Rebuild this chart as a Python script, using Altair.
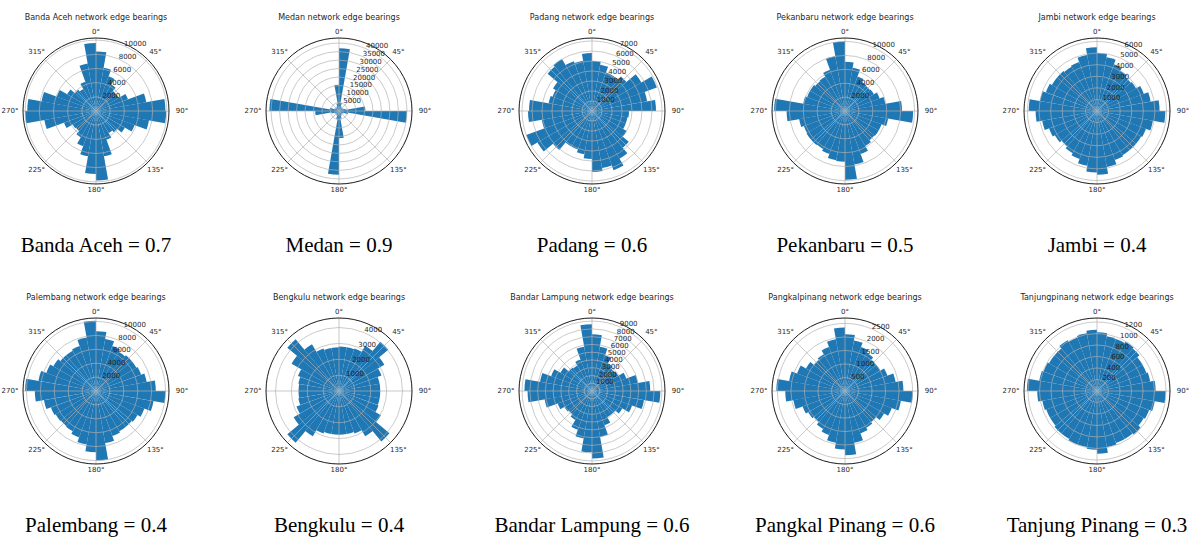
import math
import altair as alt
import pandas as pd

# Street-network edge bearing histograms (36 sectors of 10°, clockwise from north)
cities = ["Banda Aceh", "Medan", "Padang", "Pekanbaru", "Jambi",
          "Palembang", "Bengkulu", "Bandar Lampung", "Pangkalpinang", "Tanjungpinang"]
caption_names = ["Banda Aceh", "Medan", "Padang", "Pekanbaru", "Jambi",
                 "Palembang", "Bengkulu", "Bandar Lampung", "Pangkal Pinang", "Tanjung Pinang"]
scores = ["0.7", "0.9", "0.6", "0.5", "0.4", "0.4", "0.4", "0.6", "0.6", "0.3"]

# start angle of each sector, degrees clockwise from north
sector_start = list(range(0, 360, 10))

banda_aceh = [8400, 6200, 5200, 4300, 3700, 3700, 4800, 7200, 9800, 9900, 7600, 5800,
              4700, 3900, 3600, 4300, 6500, 9800, 8900, 6500, 5300, 4300, 3700, 3800,
              4800, 7400, 10000, 9700, 7800, 5900, 4700, 3900, 3600, 4400, 6800, 9600]
medan = [37000, 5000, 3000, 2500, 2500, 2500, 3000, 4000, 15500, 40000, 5500, 3000,
         2500, 2500, 2500, 3000, 4500, 16000, 37500, 5000, 3000, 2500, 2500, 2500,
         3000, 4500, 14000, 41000, 5500, 3000, 2500, 2500, 2500, 3000, 4500, 15500]
padang = [5000, 4700, 4100, 4100, 4500, 5700, 6900, 5600, 6400, 3700, 3600, 3600,
          4000, 4800, 5500, 6300, 5800, 6100, 4800, 4400, 4100, 4100, 5100, 6300,
          7000, 5100, 6400, 6300, 4400, 4200, 4500, 5800, 6000, 5300, 5100, 5800]
pekanbaru = [7100, 6300, 5300, 4800, 4700, 4800, 5300, 5900, 8200, 9800, 6300, 5600,
             5600, 5500, 5800, 6600, 7800, 9900, 7300, 7200, 6600, 6300, 6400, 6400,
             6300, 6700, 8400, 10200, 6100, 5800, 5800, 5600, 5700, 6300, 8000, 10000]
jambi = [5000, 4700, 4300, 4000, 3800, 3900, 4300, 4700, 5400, 5900, 4900, 4500,
         4400, 4400, 4400, 4500, 4900, 5500, 5300, 4800, 4400, 4200, 4000, 4200,
         4400, 4800, 5300, 5900, 5000, 4700, 4500, 4500, 4400, 4500, 4900, 5500]
palembang = [8600, 7600, 6900, 6500, 6700, 6700, 6900, 7400, 8600, 10000, 8400, 7400,
             6900, 6700, 6700, 6900, 7600, 10000, 8800, 7800, 7100, 6700, 6600, 6700,
             6900, 7600, 8800, 10200, 8400, 7600, 7100, 6700, 6700, 6900, 7800, 10100]
bengkulu = [2800, 2800, 2850, 3300, 4050, 3300, 2850, 2600, 2600, 2600, 2600, 2650,
            3050, 4150, 3300, 2850, 2750, 2750, 2750, 2750, 2850, 3300, 4250, 3300,
            2850, 2600, 2550, 2550, 2600, 2750, 3450, 4250, 3400, 2850, 2750, 2750]
bandar_lampung = [7300, 5800, 4900, 4100, 3800, 3900, 4700, 6000, 7500, 8800, 6800, 5500,
                  4500, 3900, 3900, 4700, 6000, 8700, 7900, 6200, 5300, 4300, 3900, 4100,
                  4700, 6200, 8300, 8700, 6800, 5600, 4700, 3900, 3800, 4300, 5800, 8600]
pangkalpinang = [2100, 1900, 1730, 1620, 1510, 1510, 1670, 1900, 2160, 2510, 2100, 1840,
                 1670, 1510, 1570, 1670, 1940, 2380, 2160, 1940, 1730, 1620, 1510, 1570,
                 1670, 1940, 2210, 2540, 2100, 1890, 1670, 1510, 1570, 1730, 1940, 2350]
tanjungpinang = [1020, 965, 965, 990, 965, 915, 915, 940, 1020, 1195, 1020, 965,
                 940, 990, 965, 965, 990, 1090, 1020, 990, 990, 965, 965, 940,
                 940, 965, 1040, 1220, 1020, 990, 965, 965, 1020, 990, 1020, 1065]

counts = [banda_aceh, medan, padang, pekanbaru, jambi,
          palembang, bengkulu, bandar_lampung, pangkalpinang, tanjungpinang]

# radial axis: outer limit and tick spacing of each polar plot
radial_max = [10300, 43000, 7300, 10500, 6300, 10500, 4600, 9400, 2700, 1270]
radial_step = [2000, 5000, 1000, 2000, 1000, 2000, 1000, 1000, 500, 200]
angle_ticks = list(range(0, 360, 45))

# layout of the 5 x 2 grid (pixels)
COL_X = [96, 339, 592, 845, 1097]
ROW_Y = [111, 391]
R = 73
BLUE = "#1f77b4"
GRID = "#b0b0b0"
TXT = "#262626"
SANS = "DejaVu Sans"
SERIF = "Liberation Serif"


def panel(i):
    row, col = divmod(i, 5)
    cx, cy = COL_X[col], ROW_Y[row]
    rmax = radial_max[i]
    step = radial_step[i]
    ticks = list(range(step, rmax + 1, step))

    rscale = alt.Scale(type="linear", domain=[0, rmax], range=[0, R], zero=True, nice=False)
    tscale = alt.Scale(type="linear", domain=[0, 360], range=[0, 2 * math.pi],
                       zero=False, nice=False)
    centre = dict(x=alt.value(cx), y=alt.value(cy))

    bars = alt.Chart(pd.DataFrame({"start": sector_start, "count": counts[i]})).transform_calculate(
        end="datum.start + 10"
    ).mark_arc(color=BLUE).encode(
        theta=alt.Theta("start:Q", scale=tscale, stack=None),
        theta2="end:Q",
        radius=alt.Radius("count:Q", scale=rscale, stack=None),
        **centre,
    )

    tick_df = pd.DataFrame({"tick": ticks})
    rings = alt.Chart(tick_df).mark_arc(filled=False, stroke=GRID, strokeWidth=0.8,
                                        strokeOpacity=0.85).encode(
        theta=alt.value(0),
        theta2=alt.value(2 * math.pi),
        radius=alt.Radius("tick:Q", scale=rscale, stack=None),
        **centre,
    )

    spokes = alt.Chart(pd.DataFrame({"angle": angle_ticks})).transform_calculate(
        x1=f"{cx}",
        y1=f"{cy}",
        x2=f"{cx} + {R} * sin(datum.angle * PI / 180)",
        y2=f"{cy} - {R} * cos(datum.angle * PI / 180)",
    ).mark_rule(stroke=GRID, strokeWidth=0.8, strokeOpacity=0.85).encode(
        x=alt.X("x1:Q", scale=None),
        y=alt.Y("y1:Q", scale=None),
        x2="x2:Q",
        y2="y2:Q",
    )

    outline = alt.Chart(pd.DataFrame({"k": [0]})).mark_arc(
        filled=False, stroke="#1a1a1a", strokeWidth=1
    ).encode(
        theta=alt.value(0),
        theta2=alt.value(2 * math.pi),
        radius=alt.value(R),
        **centre,
    )

    rlabels = alt.Chart(tick_df).mark_text(
        align="left", baseline="bottom", dx=1, dy=1, fontSize=7, font=SANS, color=TXT
    ).encode(
        theta=alt.value(22.5 * math.pi / 180),
        radius=alt.Radius("tick:Q", scale=rscale, stack=None),
        text=alt.Text("tick:Q", format="d"),
        **centre,
    )

    alabels = alt.Chart(pd.DataFrame({"angle": angle_ticks})).transform_calculate(
        label="datum.angle + '°'",
        lr="79 + 7 * abs(sin(datum.angle * PI / 180))",
        lx=f"{cx} + datum.lr * sin(datum.angle * PI / 180)",
        ly=f"{cy} - datum.lr * cos(datum.angle * PI / 180)",
    ).mark_text(fontSize=7, font=SANS, color=TXT, align="center", baseline="middle").encode(
        x=alt.X("lx:Q", scale=None),
        y=alt.Y("ly:Q", scale=None),
        text="label:N",
    )

    title = alt.Chart(pd.DataFrame({"k": [0]})).mark_text(
        fontSize=8, font=SANS, color=TXT, align="center", baseline="middle"
    ).encode(
        x=alt.value(cx), y=alt.value(cy - 93),
        text=alt.value(f"{cities[i]} network edge bearings"),
    )

    caption = alt.Chart(pd.DataFrame({"k": [0]})).mark_text(
        fontSize=21, font=SERIF, color="#000000", align="center", baseline="middle"
    ).encode(
        x=alt.value(cx), y=alt.value(cy + 135),
        text=alt.value(f"{caption_names[i]} = {scores[i]}"),
    )

    return alt.layer(bars, rings, spokes, outline, rlabels, alabels, title, caption)


chart = alt.layer(*[panel(i) for i in range(10)]).resolve_scale(
    theta="independent", radius="independent"
).properties(
    width=1195, height=541,
    autosize=alt.AutoSizeParams(type="none"),
    padding=0,
    background="white",
).configure_view(stroke="transparent")

chart.save("out.html", embed_options={"renderer": "svg", "actions": False})
